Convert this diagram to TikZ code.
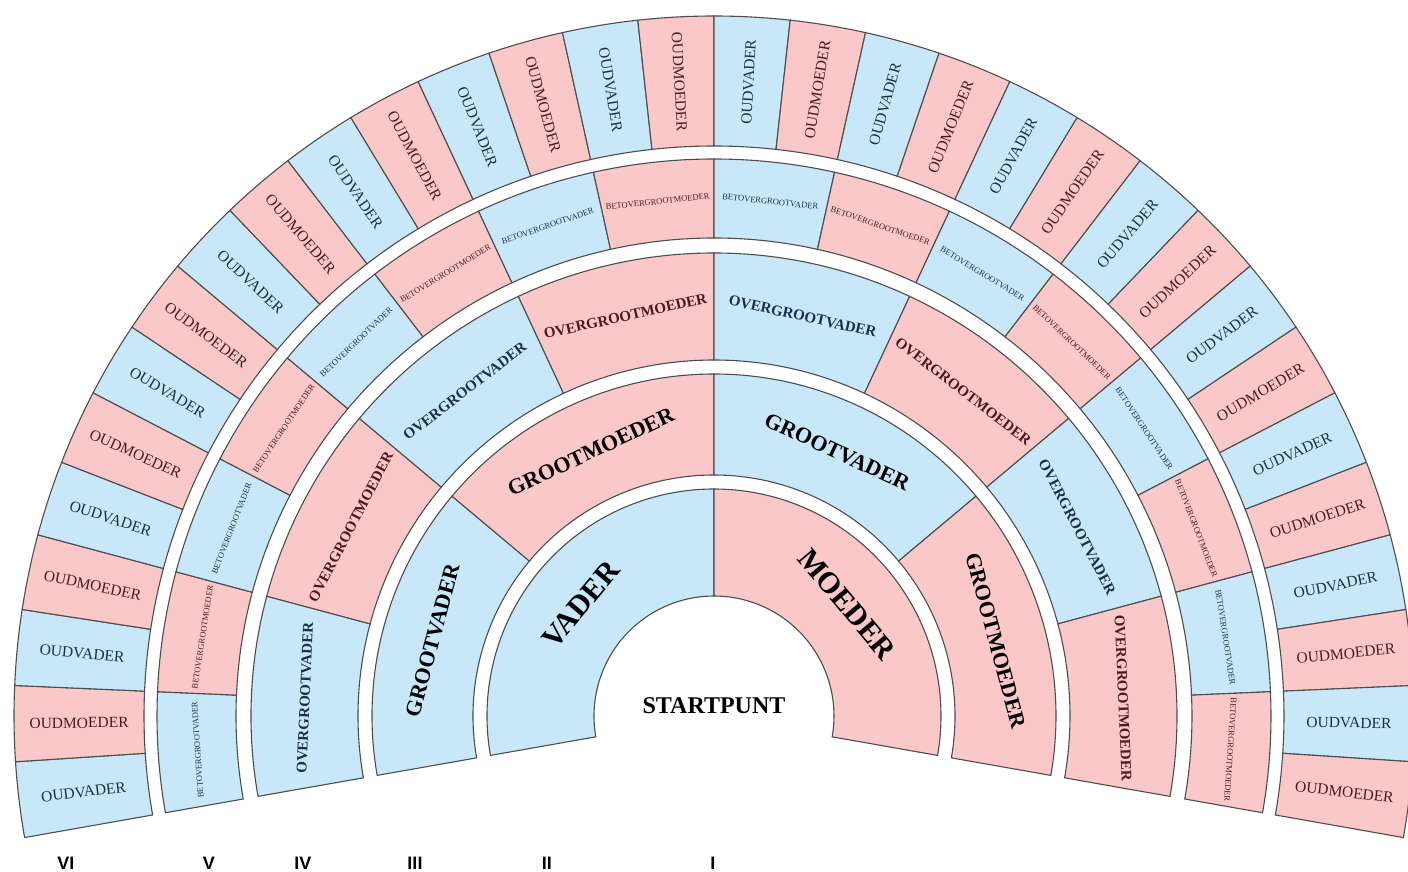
\documentclass[tikz,border=0pt]{standalone}
\usepackage{fontspec}
\setmainfont{Liberation Serif}
\newfontfamily\cijferfont{Liberation Sans}
\usepackage{xcolor}
\usepackage{tikz}
\usetikzlibrary{positioning}
\definecolor{vaderblauw}{HTML}{C8E8FA}
\definecolor{moederroze}{HTML}{FAC8C8}
\definecolor{vaderinkt}{HTML}{1C2E4A}
\definecolor{moederinkt}{HTML}{4A1C22}
\definecolor{randgrijs}{HTML}{4D4D4D}
\tikzset{
	vak/.style={draw=randgrijs, line width=1.1pt},
	naam/.style={inner sep=0pt},
	generatie/.style={font=\cijferfont\fontsize{18}{18}\selectfont\bfseries, anchor=base}
}
\newcommand\vak[5]{
	\filldraw[vak, fill=#1] (#2:#4pt) arc[start angle=#2, end angle=#3, radius=#4pt] -- (#3:#5pt) arc[start angle=#3, end angle=#2, radius=#5pt] -- cycle;
}

\begin{document}
\begin{tikzpicture}[x=1pt, y=1pt]
	\useasboundingbox (-714,-155) rectangle (694,716);
	\foreach \g/\rin/\rout/\n/\va/\mo/\fs/\fw in {1/120/227/2/VADER/MOEDER/30/b, 2/241/342/4/GROOTVADER/GROOTMOEDER/22/b, 3/356/463/8/OVERGROOTVADER/OVERGROOTMOEDER/15/b, 4/478/557/16/BETOVERGROOTVADER/BETOVERGROOTMOEDER/8.5/m, 5/570/700/32/OUDVADER/OUDMOEDER/15.5/m}{
		\pgfmathsetmacro\stap{200/\n}
		\pgfmathsetmacro\rmid{(\rin+\rout)/2}
		\pgfmathtruncatemacro\laatste{\n-1}
		\foreach \j in {0,...,\laatste}{
			\pgfmathsetmacro\van{190-\j*\stap}
			\pgfmathsetmacro\tot{190-(\j+1)*\stap}
			\pgfmathsetmacro\mid{190-(\j+0.5)*\stap}
			\pgfmathtruncatemacro\ouder{mod(\j,2)}
			\ifnum\ouder=0
				\def\vulkleur{vaderblauw}\def\inkt{vaderinkt}\def\tekst{\va}
			\else
				\def\vulkleur{moederroze}\def\inkt{moederinkt}\def\tekst{\mo}
			\fi
			\ifnum\g<3 \def\inkt{black}\fi
			\ifnum\g=5
				\pgfmathsetmacro\hoek{\mid>90 ? \mid-180 : \mid}
			\else
				\pgfmathsetmacro\hoek{\mid-90}
			\fi
			\vak{\vulkleur}{\van}{\tot}{\rin}{\rout}
			\node[naam, rotate=\hoek, text=\inkt, font=\fontsize{\fs}{\fs}\fontseries{\fw}\selectfont] (g\g s\j) at (\mid:\rmid pt) {\tekst};
		}
	}
	\node[naam, font=\fontsize{24}{24}\selectfont\bfseries] (start) at (0,10) {STARTPUNT};
	\node[generatie] (gen6) at (-648,-153) {VI};
	\node[generatie] (gen5) at (-505,-153) {V};
	\node[generatie] (gen4) at (-411,-153) {IV};
	\node[generatie] (gen3) at (-299,-153) {III};
	\node[generatie] (gen2) at (-167,-153) {II};
	\node[generatie] (gen1) at (-1,-153) {I};
\end{tikzpicture}
\end{document}
